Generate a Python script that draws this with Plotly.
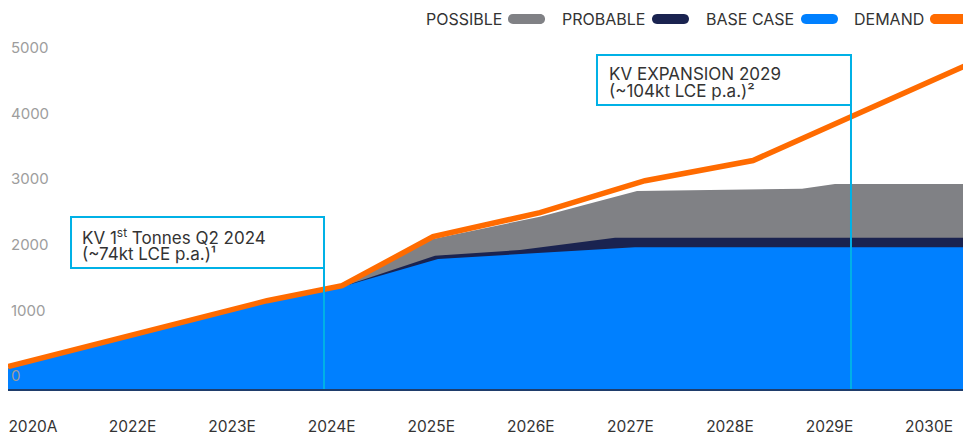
import plotly.graph_objects as go

# Category axis (index positions 0..9 carry these labels)
periods = ["2020A", "2022E", "2023E", "2024E", "2025E", "2026E", "2027E", "2028E", "2029E", "2030E"]
y_ticks = [0, 1000, 2000, 3000, 4000, 5000]

# Demand curve (x in period-index units, y in kt LCE)
demand_x = [-0.251, 2.350, 3.104, 4.018, 5.092, 6.147, 7.232, 9.4]
demand_y = [340, 1346, 1575, 2322, 2688, 3175, 3483, 4953]

# Supply scenarios (cumulative totals)
base_x = [-0.251, 2.350, 3.104, 4.068, 6.046, 9.4]
base_y = [325, 1330, 1560, 1982, 2160, 2160]

probable_x = [3.104, 4.038, 4.891, 5.846, 9.4]
probable_y = [1560, 2032, 2119, 2306, 2306]

possible_x = [3.104, 4.018, 5.092, 6.067, 7.724, 8.055, 9.4]
possible_y = [1560, 2287, 2627, 3018, 3053, 3125, 3125]

# Project milestones: position and two-line label
milestone_x = [2.923, 8.216]
milestone_line1 = ["KV 1<sup>st</sup> Tonnes Q2 2024", "KV EXPANSION 2029"]
milestone_line2 = ["(~74kt LCE p.a.)\u00b9", "(~104kt LCE p.a.)\u00b2"]

C_POSSIBLE = "#808185"
C_PROBABLE = "#1a2350"
C_BASE = "#0080ff"
C_DEMAND = "#ff6b00"
C_CALLOUT = "#00b1e6"
C_TEXT = "#333333"
FONT = "Inter"

W, H = 963, 436
ML, MR, MT, MB = 8, 0, 30, 47
PW, PH = W - ML - MR, H - MT - MB
Y_MAX = PH / 0.0656


def px_x(p):
    return (p - ML) / PW


def px_y(p):
    return (H - MB - p) / PH


fig = go.Figure()
fig.add_trace(go.Scatter(x=possible_x, y=possible_y, mode="lines", fill="tozeroy",
                         fillcolor=C_POSSIBLE, line=dict(width=0, color=C_POSSIBLE),
                         name="POSSIBLE", showlegend=False))
fig.add_trace(go.Scatter(x=probable_x, y=probable_y, mode="lines", fill="tozeroy",
                         fillcolor=C_PROBABLE, line=dict(width=0, color=C_PROBABLE),
                         name="PROBABLE", showlegend=False))
fig.add_trace(go.Scatter(x=base_x, y=base_y, mode="lines", fill="tozeroy",
                         fillcolor=C_BASE, line=dict(width=0, color=C_BASE),
                         name="BASE CASE", showlegend=False))
fig.add_trace(go.Scatter(x=demand_x, y=demand_y, mode="lines",
                         line=dict(width=5.5, color=C_DEMAND),
                         name="DEMAND", showlegend=False))

# Milestone callouts: vertical marker, a box hanging left of it, two text lines
callout_tops = [217, 55]
box_w = [253, 254]
box_h = [51, 50]
text_inset = [9, 10]
for i, mx in enumerate(milestone_x):
    top = px_y(callout_tops[i])
    fig.add_shape(type="line", xref="x", yref="paper", x0=mx, x1=mx,
                  y0=0, y1=top, line=dict(color=C_CALLOUT, width=2), layer="above")
    fig.add_shape(type="rect", xref="x", yref="paper", xsizemode="pixel", ysizemode="pixel",
                  xanchor=mx, yanchor=top, x0=-box_w[i], x1=0, y0=-box_h[i], y1=0,
                  fillcolor="white", line=dict(color=C_CALLOUT, width=2), layer="above")
    for txt, dy in ((milestone_line1[i], 19.5), (milestone_line2[i], 36.5)):
        fig.add_annotation(xref="x", yref="paper", x=mx, y=top, xanchor="left", yanchor="middle",
                           xshift=-box_w[i] + text_inset[i], yshift=-dy,
                           text=txt, showarrow=False, align="left",
                           font=dict(family=FONT, size=17, color=C_TEXT))

# Legend row: label followed by a rounded swatch
legend_items = [("POSSIBLE", C_POSSIBLE, 504, 526.5),
                ("PROBABLE", C_PROBABLE, 647, 670.5),
                ("BASE CASE", C_BASE, 796, 819.5),
                ("DEMAND", C_DEMAND, 926, 948.5)]
pill = "M -13.5,-5 H 13.5 C 20.2,-5 20.2,5 13.5,5 H -13.5 C -20.2,5 -20.2,-5 -13.5,-5 Z"
for label, col, text_right, pill_cx in legend_items:
    fig.add_annotation(xref="paper", yref="paper", x=px_x(text_right), y=px_y(19),
                       xanchor="right", yanchor="middle", text=label, showarrow=False,
                       font=dict(family=FONT, size=16, color=C_TEXT))
    fig.add_shape(type="path", xref="paper", yref="paper", xsizemode="pixel", ysizemode="pixel",
                  xanchor=px_x(pill_cx), yanchor=px_y(19), path=pill,
                  fillcolor=col, line=dict(width=0))

fig.update_layout(
    width=W, height=H,
    margin=dict(l=ML, r=MR, t=MT, b=MB, pad=0),
    paper_bgcolor="white", plot_bgcolor="white",
    font=dict(family=FONT, size=15, color=C_TEXT),
    showlegend=False,
    xaxis=dict(range=[-0.251, 9.341], tickvals=list(range(len(periods))), ticktext=periods,
               automargin=False,
               showgrid=False, zeroline=False, showline=True, linecolor="#1f3d6b", linewidth=2,
               ticks="outside", ticklen=22, tickcolor="rgba(0,0,0,0)",
               ticklabeloverflow="allow",
               tickfont=dict(family=FONT, size=15.5, color=C_TEXT)),
    yaxis=dict(range=[0, Y_MAX], tickvals=y_ticks, showgrid=False, zeroline=False,
               automargin=False,
               showline=False, ticks="", ticklabelposition="inside", ticklabelshift=-13,
               ticklabeloverflow="allow",
               tickfont=dict(family=FONT, size=15, color="#9d9d9d")),
)

fig.write_html("out.html")
